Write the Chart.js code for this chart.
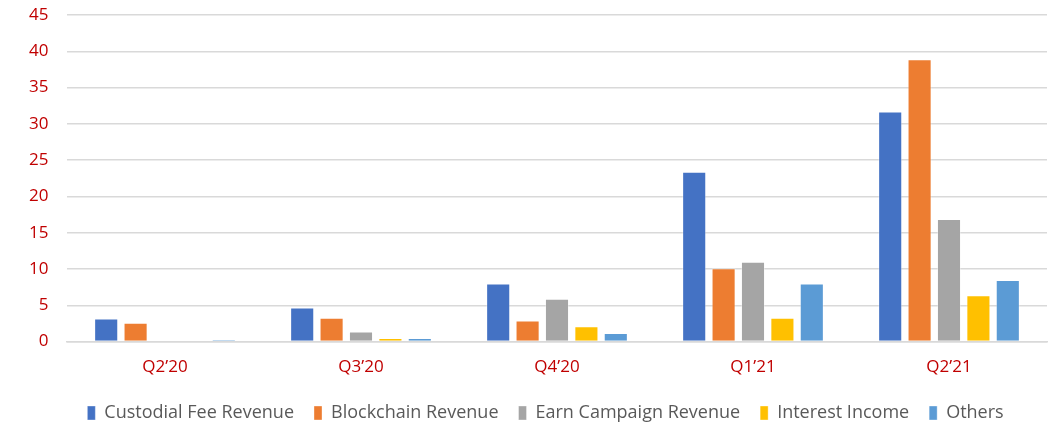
<!DOCTYPE html>
<html lang="en">
<head>
    <meta charset="UTF-8">
    <title>Revenue by Quarter</title>
    <script src="https://cdn.jsdelivr.net/npm/chart.js@4/dist/chart.umd.min.js"></script>
    <style>
        body {
            margin: 0;
            background: #ffffff;
        }
        .chart-box {
            position: relative;
            width: 1059px;
            height: 425px;
        }
    </style>
</head>
<body>
    <div class="chart-box">
        <canvas id="chart"></canvas>
    </div>

    <script>
        // Data
        const quarters = ['Q2\u201920', 'Q3\u201920', 'Q4\u201920', 'Q1\u201921', 'Q2\u201921'];
        const custodialFee = [3.2, 4.7, 8.0, 23.4, 31.7];
        const blockchain = [2.6, 3.3, 2.9, 10.1, 38.9];
        const earnCampaign = [0, 1.4, 5.9, 11.0, 16.9];
        const interestIncome = [0, 0.5, 2.1, 3.3, 6.4];
        const others = [0.3, 0.5, 1.2, 8.0, 8.5];
        const yTicks = [0, 5, 10, 15, 20, 25, 30, 35, 40, 45];

        const FONT = "'Open Sans', 'Liberation Sans', sans-serif";

        function series(label, data, color) {
            return {
                label: label,
                data: data,
                backgroundColor: color,
                borderColor: 'rgba(255,255,255,0.35)',
                borderWidth: 1,
                categoryPercentage: 0.75,
                barPercentage: 0.82
            };
        }

        new Chart(document.getElementById('chart'), {
            type: 'bar',
            data: {
                labels: quarters,
                datasets: [
                    series('Custodial Fee Revenue', custodialFee, '#4472C4'),
                    series('Blockchain Revenue', blockchain, '#ED7D31'),
                    series('Earn Campaign Revenue', earnCampaign, '#A5A5A5'),
                    series('Interest Income', interestIncome, '#FFC000'),
                    series('Others', others, '#5B9BD5')
                ]
            },
            options: {
                responsive: true,
                maintainAspectRatio: false,
                animation: false,
                layout: {
                    // left padding pushes the legend centre to the right like the original
                    padding: { top: 15, right: 12, bottom: -7, left: 44 }
                },
                plugins: {
                    legend: {
                        position: 'bottom',
                        labels: {
                            color: '#595959',
                            font: { family: FONT, size: 18 },
                            boxWidth: 8,
                            boxHeight: 14,
                            padding: 20
                        }
                    },
                    tooltip: { enabled: false }
                },
                scales: {
                    x: {
                        grid: { display: false },
                        border: { color: '#d9d9d9', width: 1.5 },
                        ticks: {
                            color: '#C00000',
                            font: { family: FONT, size: 17 },
                            padding: 7
                        }
                    },
                    y: {
                        min: 0,
                        max: 45,
                        afterBuildTicks: axis => {
                            axis.ticks = yTicks.map(v => ({ value: v }));
                        },
                        afterFit: axis => {
                            axis.width = 23;
                            axis.paddingTop = 0;
                        },
                        grid: {
                            color: '#d9d9d9',
                            lineWidth: 1.5,
                            drawTicks: false
                        },
                        border: { display: false },
                        ticks: {
                            // mirror keeps the labels from being clipped to the narrow axis box
                            mirror: true,
                            crossAlign: 'far',
                            color: '#C00000',
                            font: { family: FONT, size: 17 },
                            padding: -38
                        }
                    }
                }
            }
        });
    </script>
</body>
</html>
